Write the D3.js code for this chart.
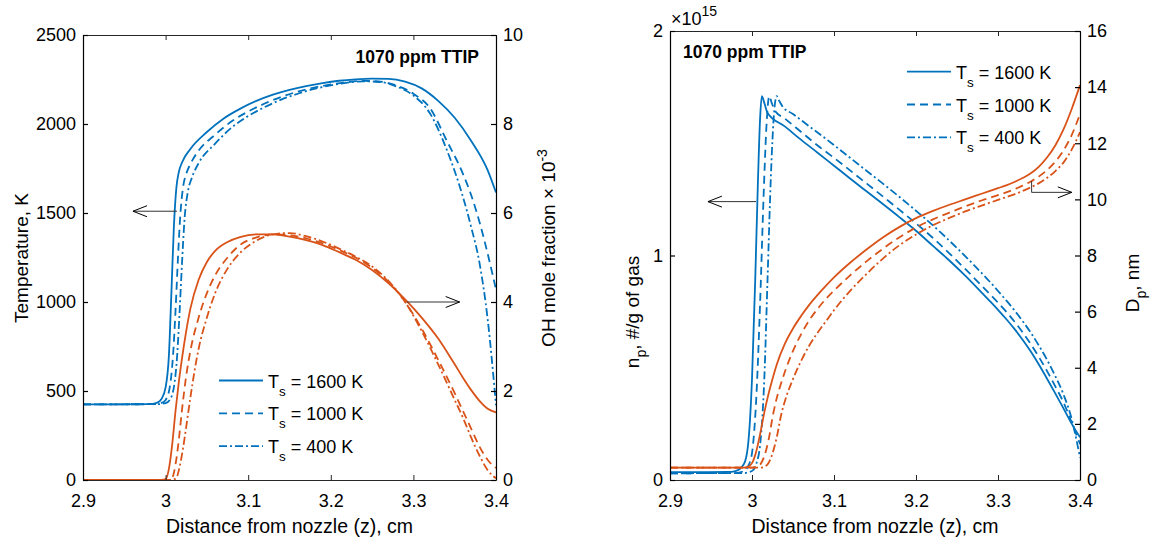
<!DOCTYPE html>
<html>
<head>
<meta charset="utf-8">
<script src="https://cdn.jsdelivr.net/npm/d3@7/dist/d3.min.js"></script>
<style>
body { margin: 0; background: #fff; }
svg text { font-family: "Liberation Sans", Arial, Helvetica, sans-serif; fill: #000; }
</style>
</head>
<body>
<div id="chart"></div>
<script>
// ---- data (z in cm) ----
var zTicks = [2.9, 3, 3.1, 3.2, 3.3, 3.4];
var tempTicks = [0, 500, 1000, 1500, 2000, 2500];
var ohTicks = [0, 2, 4, 6, 8, 10];
var npTicks = [0, 1, 2];
var dpTicks = [0, 2, 4, 6, 8, 10, 12, 14, 16];
var legendLabels = ['1600 K', '1000 K', '400 K'];
var noteText = '1070 ppm TTIP';

// gas temperature, K
var temp1600 = [[2.90,425],[2.98,426],[2.99,435],[2.995,455],[3.000,520],[3.004,700],[3.007,1050],[3.010,1420],
  [3.013,1640],[3.016,1730],[3.020,1785],[3.03,1860],[3.05,1955],[3.07,2030],[3.09,2085],[3.11,2130],[3.13,2165],
  [3.15,2192],[3.17,2213],[3.19,2230],[3.21,2243],[3.23,2251],[3.25,2255],[3.27,2254],[3.29,2238],[3.31,2200],
  [3.33,2130],[3.35,2035],[3.37,1905],[3.39,1740],[3.40,1615]];
var temp1000 = [[2.90,425],[2.985,426],[2.995,433],[3.000,450],[3.005,520],[3.009,700],[3.012,950],[3.015,1250],
  [3.018,1500],[3.021,1640],[3.025,1720],[3.03,1775],[3.04,1850],[3.06,1940],[3.08,2015],[3.10,2070],[3.12,2115],
  [3.14,2152],[3.16,2182],[3.18,2205],[3.20,2222],[3.22,2235],[3.24,2242],[3.26,2238],[3.28,2215],[3.30,2170],
  [3.32,2090],[3.34,1910],[3.36,1720],[3.37,1600],[3.38,1450],[3.39,1270],[3.40,1070]];
var temp400 = [[2.90,425],[2.99,426],[3.000,432],[3.005,450],[3.010,520],[3.014,700],[3.017,950],[3.020,1230],
  [3.023,1470],[3.027,1620],[3.032,1700],[3.04,1780],[3.06,1890],[3.08,1980],[3.10,2045],[3.12,2095],[3.14,2137],
  [3.16,2170],[3.18,2197],[3.20,2217],[3.22,2232],[3.24,2240],[3.26,2236],[3.28,2210],[3.30,2160],[3.32,2060],
  [3.34,1860],[3.36,1590],[3.37,1420],[3.38,1220],[3.39,900],[3.40,420]];

// OH mole fraction, x 1e-3
var oh1600 = [[2.90,0],[2.995,0],[3.000,0.02],[3.004,0.25],[3.008,0.8],[3.012,1.55],[3.016,2.2],[3.020,2.75],
  [3.025,3.35],[3.030,3.85],[3.040,4.5],[3.050,4.9],[3.060,5.15],[3.075,5.35],[3.09,5.46],[3.11,5.52],[3.13,5.52],
  [3.15,5.47],[3.17,5.39],[3.19,5.28],[3.21,5.12],[3.23,4.95],[3.25,4.72],[3.27,4.42],[3.29,4.06],[3.31,3.65],
  [3.33,3.18],[3.35,2.6],[3.36,2.3],[3.37,2.02],[3.38,1.78],[3.39,1.6],[3.40,1.52]];
var oh1000 = [[2.90,0],[3.003,0],[3.008,0.05],[3.012,0.35],[3.016,0.9],[3.020,1.6],[3.025,2.35],[3.030,2.9],
  [3.040,3.65],[3.050,4.2],[3.060,4.6],[3.075,5.0],[3.09,5.28],[3.11,5.45],[3.13,5.52],[3.15,5.5],[3.17,5.43],
  [3.19,5.32],[3.21,5.17],[3.23,5.0],[3.25,4.77],[3.27,4.45],[3.29,4.0],[3.31,3.4],[3.33,2.7],[3.35,1.95],
  [3.36,1.55],[3.37,1.15],[3.38,0.75],[3.39,0.45],[3.40,0.27]];
var oh400 = [[2.90,0],[3.008,0],[3.013,0.05],[3.017,0.3],[3.021,0.7],[3.025,1.2],[3.030,1.85],[3.035,2.45],
  [3.040,2.95],[3.050,3.65],[3.060,4.2],[3.075,4.75],[3.09,5.1],[3.11,5.38],[3.13,5.52],[3.15,5.55],[3.17,5.48],
  [3.19,5.36],[3.21,5.2],[3.23,5.02],[3.25,4.8],[3.27,4.47],[3.29,4.0],[3.31,3.35],[3.33,2.6],[3.35,1.8],
  [3.36,1.4],[3.37,0.95],[3.38,0.55],[3.39,0.22],[3.40,0.04]];

// particle number density, x 1e15 #/g of gas
var np1600 = [[2.90,0.035],[2.97,0.036],[2.98,0.04],[2.99,0.07],[2.995,0.15],[3.000,0.45],[3.004,0.9],[3.007,1.3],
  [3.010,1.62],[3.012,1.71],[3.015,1.68],[3.019,1.635],[3.04,1.575],[3.06,1.515],[3.08,1.458],[3.10,1.4],
  [3.12,1.342],[3.14,1.285],[3.16,1.228],[3.18,1.17],[3.20,1.11],[3.22,1.045],[3.24,0.98],[3.26,0.91],
  [3.28,0.835],[3.29,0.797],[3.30,0.758],[3.31,0.717],[3.32,0.673],[3.33,0.625],[3.34,0.572],[3.35,0.513],
  [3.36,0.45],[3.37,0.385],[3.38,0.318],[3.39,0.25],[3.40,0.19]];
var np1000 = [[2.90,0.03],[2.98,0.031],[2.99,0.04],[2.995,0.06],[3.000,0.12],[3.005,0.35],[3.010,0.8],[3.014,1.25],
  [3.018,1.6],[3.021,1.71],[3.024,1.68],[3.028,1.645],[3.04,1.61],[3.06,1.55],[3.08,1.49],[3.10,1.435],
  [3.12,1.378],[3.14,1.32],[3.16,1.262],[3.18,1.203],[3.20,1.143],[3.22,1.08],[3.24,1.012],[3.26,0.94],
  [3.28,0.866],[3.30,0.79],[3.31,0.75],[3.32,0.706],[3.33,0.658],[3.34,0.605],[3.35,0.547],[3.36,0.484],
  [3.37,0.416],[3.38,0.345],[3.39,0.255],[3.40,0.16]];
var np400 = [[2.90,0.03],[2.99,0.031],[3.000,0.04],[3.005,0.07],[3.010,0.16],[3.015,0.45],[3.019,0.9],[3.023,1.35],
  [3.027,1.64],[3.030,1.71],[3.033,1.69],[3.037,1.665],[3.05,1.63],[3.07,1.575],[3.09,1.52],[3.11,1.463],
  [3.13,1.405],[3.15,1.348],[3.17,1.29],[3.19,1.23],[3.21,1.168],[3.23,1.103],[3.25,1.033],[3.27,0.96],
  [3.29,0.883],[3.30,0.842],[3.31,0.8],[3.32,0.756],[3.33,0.708],[3.34,0.656],[3.35,0.598],[3.36,0.534],
  [3.37,0.462],[3.38,0.38],[3.39,0.27],[3.40,0.1]];

// particle diameter, nm
var dp1600 = [[2.90,0.44],[2.99,0.44],[2.995,0.47],[3.000,0.6],[3.005,1.0],[3.010,1.65],[3.015,2.4],[3.020,3.05],
  [3.025,3.6],[3.03,4.1],[3.04,4.85],[3.05,5.4],[3.06,5.85],[3.07,6.25],[3.08,6.6],[3.09,6.92],[3.10,7.22],
  [3.12,7.75],[3.14,8.22],[3.16,8.65],[3.18,9.02],[3.20,9.33],[3.22,9.58],[3.24,9.8],[3.26,10.0],[3.28,10.2],
  [3.30,10.4],[3.31,10.5],[3.32,10.62],[3.33,10.76],[3.34,10.93],[3.35,11.17],[3.36,11.5],[3.37,11.93],
  [3.38,12.5],[3.39,13.23],[3.40,14.07]];
var dp1000 = [[2.90,0.44],[3.000,0.44],[3.005,0.46],[3.010,0.55],[3.015,0.85],[3.020,1.4],[3.026,2.38],[3.03,2.9],
  [3.035,3.4],[3.04,3.85],[3.05,4.6],[3.06,5.2],[3.07,5.7],[3.08,6.1],[3.09,6.45],[3.10,6.75],[3.12,7.3],
  [3.14,7.8],[3.16,8.25],[3.18,8.65],[3.20,9.0],[3.22,9.28],[3.24,9.52],[3.26,9.75],[3.28,9.96],[3.30,10.15],
  [3.31,10.25],[3.32,10.36],[3.33,10.49],[3.34,10.64],[3.35,10.82],[3.36,11.05],[3.37,11.35],[3.38,11.75],
  [3.39,12.3],[3.40,13.04]];
var dp400 = [[2.90,0.44],[3.010,0.44],[3.015,0.47],[3.020,0.6],[3.025,0.95],[3.030,1.5],[3.036,2.38],[3.04,2.8],
  [3.05,3.6],[3.06,4.25],[3.07,4.8],[3.08,5.25],[3.09,5.65],[3.10,6.05],[3.12,6.75],[3.14,7.35],[3.16,7.9],
  [3.18,8.37],[3.20,8.75],[3.22,9.07],[3.24,9.33],[3.26,9.57],[3.28,9.78],[3.30,9.98],[3.31,10.08],[3.32,10.18],
  [3.33,10.3],[3.34,10.43],[3.35,10.58],[3.36,10.77],[3.37,11.01],[3.38,11.32],[3.39,11.78],[3.40,12.4]];

// arrows, in data units: [z, y] points, last point is the tip
var tempArrow = [[3.0138,1510],[2.9605,1510]];
var ohArrow = [[3.292,4.0],[3.356,4.0]];
var npArrow = [[3.005,1.24],[2.9463,1.24]];
var dpArrow = [[3.341,10.65],[3.341,10.25],[3.39,10.25]];

var blue = '#0072BD';
var orange = '#D95319';
var dashes = ['none', '8,5', '8,3,2,3'];

var svg = d3.select('#chart').append('svg')
    .attr('width', 1153)
    .attr('height', 546);

function drawPanel(p) {
    var x = d3.scaleLinear().domain([2.9, 3.4]).range([p.x0, p.x1]);
    var yL = d3.scaleLinear().domain(p.leftDomain).range([p.yBot, p.yTop]);
    var yR = d3.scaleLinear().domain(p.rightDomain).range([p.yBot, p.yTop]);

    var clipId = 'clip' + p.id;
    svg.append('clipPath').attr('id', clipId)
        .append('rect')
        .attr('x', p.x0 - 2).attr('y', p.yTop - 2)
        .attr('width', p.x1 - p.x0 + 4).attr('height', p.yBot - p.yTop + 4);

    var plot = svg.append('g').attr('clip-path', 'url(#' + clipId + ')');

    function addLines(series, yScale, color) {
        var line = d3.line()
            .x(function (d) { return x(d[0]); })
            .y(function (d) { return yScale(d[1]); })
            .curve(d3.curveMonotoneX);
        series.forEach(function (s, i) {
            plot.append('path')
                .attr('d', line(s))
                .attr('fill', 'none')
                .attr('stroke', color)
                .attr('stroke-width', 1.8)
                .attr('stroke-dasharray', dashes[i]);
        });
    }
    addLines(p.leftSeries, yL, blue);
    addLines(p.rightSeries, yR, orange);

    // axes, MATLAB style ticks pointing in
    var fmt = function (d) { return String(d); };
    var bottom = svg.append('g').attr('transform', 'translate(0,' + p.yBot + ')')
        .call(d3.axisBottom(x).tickValues(zTicks).tickFormat(fmt).tickSizeInner(-5).tickSizeOuter(0).tickPadding(14));
    var top = svg.append('g').attr('transform', 'translate(0,' + p.yTop + ')')
        .call(d3.axisTop(x).tickValues(zTicks).tickFormat('').tickSizeInner(-5).tickSizeOuter(0));
    var left = svg.append('g').attr('transform', 'translate(' + p.x0 + ',0)')
        .call(d3.axisLeft(yL).tickValues(p.leftTicks).tickFormat(fmt).tickSizeInner(-5).tickSizeOuter(0).tickPadding(7));
    var right = svg.append('g').attr('transform', 'translate(' + p.x1 + ',0)')
        .call(d3.axisRight(yR).tickValues(p.rightTicks).tickFormat(fmt).tickSizeInner(-5).tickSizeOuter(0).tickPadding(7));

    [bottom, top].forEach(function (g) {
        g.selectAll('path, line').attr('stroke', '#262626').attr('stroke-width', 1);
    });
    [left, right].forEach(function (g) {
        g.selectAll('path, line').attr('stroke', '#000').attr('stroke-width', 1.2);
    });
    [bottom, left, right].forEach(function (g) {
        g.attr('font-family', null).attr('font-size', null);
        g.selectAll('text').style('font-size', '18px').attr('fill', '#1a1a1a');
    });

    // x label
    svg.append('text')
        .attr('x', (p.x0 + p.x1) / 2)
        .attr('y', p.yBot + 53)
        .attr('text-anchor', 'middle')
        .style('font-size', '19.5px')
        .attr('fill', '#262626')
        .text('Distance from nozzle (z), cm');

    // note
    svg.append('text')
        .attr('x', p.noteX)
        .attr('y', p.noteY)
        .attr('text-anchor', p.noteAnchor)
        .style('font-size', '17.5px')
        .style('font-weight', 'bold')
        .text(noteText);

    // arrows
    function arrow(pts, yScale) {
        var px = pts.map(function (d) { return [x(d[0]), yScale(d[1])]; });
        svg.append('path')
            .attr('d', d3.line()(px))
            .attr('fill', 'none')
            .attr('stroke', '#333')
            .attr('stroke-width', 1);
        var tip = px[px.length - 1];
        var prev = px[px.length - 2];
        var ang = Math.atan2(tip[1] - prev[1], tip[0] - prev[0]);
        var len = 14, half = 5.5;
        var back = [tip[0] - len * Math.cos(ang), tip[1] - len * Math.sin(ang)];
        var nx = -Math.sin(ang) * half, ny = Math.cos(ang) * half;
        svg.append('path')
            .attr('d', d3.line()([[back[0] + nx, back[1] + ny], tip, [back[0] - nx, back[1] - ny]]))
            .attr('fill', 'none')
            .attr('stroke', '#000')
            .attr('stroke-width', 1);
    }
    arrow(p.leftArrow, yL);
    arrow(p.rightArrow, yR);

    // legend
    var lg = svg.append('g').attr('transform', 'translate(' + p.legendX + ',' + p.legendY + ')');
    legendLabels.forEach(function (lab, i) {
        var row = lg.append('g').attr('transform', 'translate(0,' + (i * 32.8) + ')');
        row.append('line')
            .attr('x1', 0).attr('x2', 44)
            .attr('y1', 0).attr('y2', 0)
            .attr('stroke', blue)
            .attr('stroke-width', 1.8)
            .attr('stroke-dasharray', dashes[i]);
        var t = row.append('text').attr('x', 49).attr('y', 7).style('font-size', '18px');
        t.append('tspan').text('T');
        t.append('tspan').attr('dy', 8).style('font-size', '13.5px').text('s');
        t.append('tspan').attr('dy', -8).text(' = ' + lab);
    });

    return { x: x, yL: yL, yR: yR };
}

// left panel: temperature and OH
drawPanel({
    id: 'a', x0: 83, x1: 496, yTop: 35, yBot: 480,
    leftDomain: [0, 2500], rightDomain: [0, 10],
    leftTicks: tempTicks, rightTicks: ohTicks,
    leftSeries: [temp1600, temp1000, temp400],
    rightSeries: [oh1600, oh1000, oh400],
    leftArrow: tempArrow, rightArrow: ohArrow,
    noteX: 479, noteY: 63, noteAnchor: 'end',
    legendX: 219, legendY: 380.5
});

// right panel: number density and diameter
drawPanel({
    id: 'b', x0: 670, x1: 1080, yTop: 31, yBot: 480,
    leftDomain: [0, 2], rightDomain: [0, 16],
    leftTicks: npTicks, rightTicks: dpTicks,
    leftSeries: [np1600, np1000, np400],
    rightSeries: [dp1600, dp1000, dp400],
    leftArrow: npArrow, rightArrow: dpArrow,
    noteX: 683, noteY: 58, noteAnchor: 'start',
    legendX: 907, legendY: 71.7
});

// y labels
var tl = svg.append('text')
    .attr('transform', 'translate(28,258) rotate(-90)')
    .attr('text-anchor', 'middle')
    .style('font-size', '19px')
    .text('Temperature, K');

var oh = svg.append('text')
    .attr('transform', 'translate(555,248) rotate(-90)')
    .attr('text-anchor', 'middle')
    .style('font-size', '19px');
oh.append('tspan').text('OH mole fraction \u00d7 10');
oh.append('tspan').attr('dy', -8).style('font-size', '14px').text('-3');

var np = svg.append('text')
    .attr('transform', 'translate(639,312) rotate(-90)')
    .attr('text-anchor', 'middle')
    .style('font-size', '19px');
np.append('tspan').text('n');
np.append('tspan').attr('dy', 7).style('font-size', '14px').text('p');
np.append('tspan').attr('dy', -7).text(', #/g of gas');

var dp = svg.append('text')
    .attr('transform', 'translate(1139,283) rotate(-90)')
    .attr('text-anchor', 'middle')
    .style('font-size', '19px');
dp.append('tspan').text('D');
dp.append('tspan').attr('dy', 7).style('font-size', '14px').text('p');
dp.append('tspan').attr('dy', -7).text(', nm');

// exponent above the right panel's left axis
var ex = svg.append('text')
    .attr('x', 671)
    .attr('y', 25)
    .style('font-size', '18px');
ex.append('tspan').text('\u00d710');
ex.append('tspan').attr('dy', -9).style('font-size', '14px').text('15');
</script>
</body>
</html>
